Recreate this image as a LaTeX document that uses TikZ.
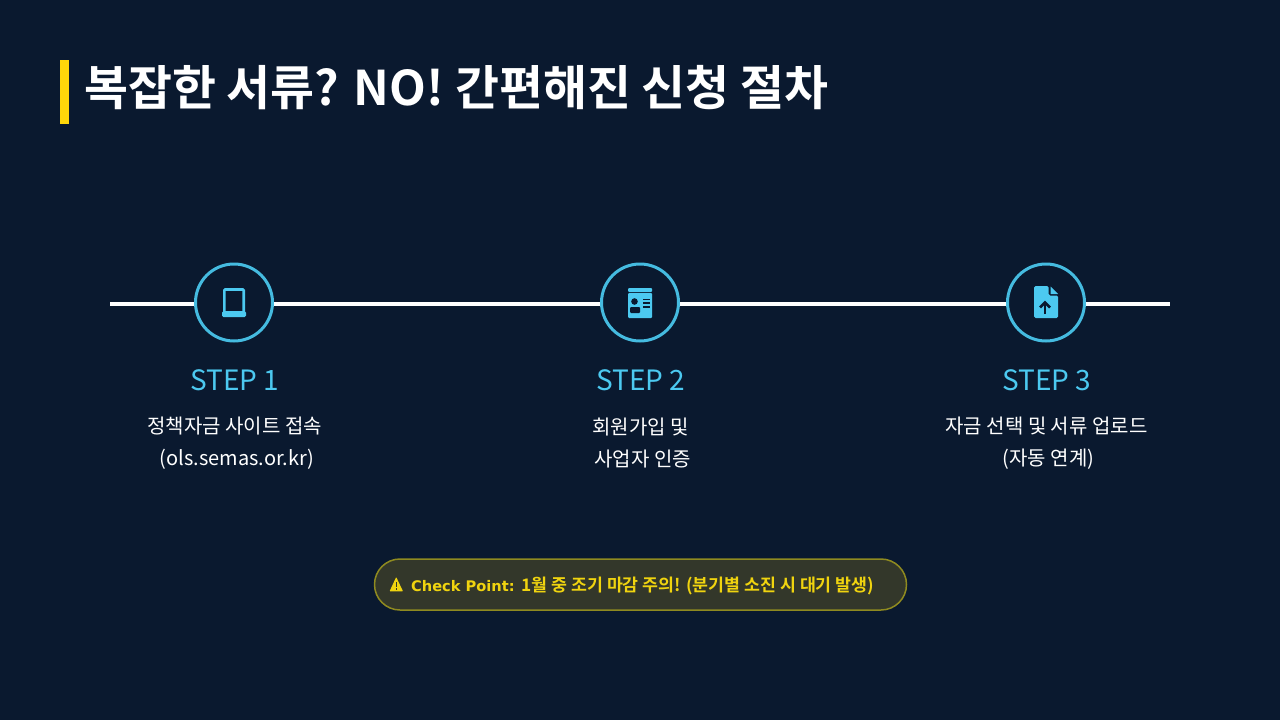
\documentclass[tikz,border=0pt]{standalone}
\usepackage{fontspec}
\setmainfont{Noto Sans CJK KR}
\newfontfamily\krbold{Noto Sans CJK KR Bold}
\newfontfamily\dejabold{DejaVu Sans Bold}
\usepackage{tikz}
\usetikzlibrary{calc,positioning}
\definecolor{navybg}{HTML}{0A192F}
\definecolor{stepblue}{HTML}{4CC9F0}
\definecolor{ringblue}{HTML}{45BBE0}
\definecolor{markyellow}{HTML}{FFD60A}
\definecolor{pilltextcol}{HTML}{F0D40F}
\definecolor{pillfill}{HTML}{33372A}
\definecolor{pillline}{HTML}{8F8A20}
\tikzset{
  stepring/.style={circle, draw=ringblue, line width=3pt, minimum size=77pt, inner sep=0pt, fill=navybg},
  steplabel/.style={text=stepblue, font=\fontsize{28}{32}\selectfont},
  stepdesc/.style={text=white, align=center, font=\fontsize{20}{32}\selectfont},
  timeline/.style={draw=white, line width=4pt},
}
\begin{document}
\begin{tikzpicture}[x=1pt, y=-1pt]
	\fill[navybg] (0, 0) rectangle (1280, 720);
	\useasboundingbox (0, 0) rectangle (1280, 720);

	% title
	\fill[markyellow] (60, 60) rectangle (69, 124);
	\node[anchor=west, inner sep=0pt, text=white, font=\krbold\fontsize{47.8}{56}\selectfont] (title) at (84, 87.5) {복잡한 서류? NO! 간편해진 신청 절차};

	% timeline
	\coordinate (lineL) at (110, 304);
	\coordinate (lineR) at (1170, 304);
	\node[stepring] (step1) at (234, 302.5) {};
	\node[stepring] (step2) at (640, 302.5) {};
	\node[stepring] (step3) at (1046, 302.5) {};
	\draw[timeline] (lineL) -- (step1.west |- lineL);
	\draw[timeline] (step1.east |- lineL) -- (step2.west |- lineL);
	\draw[timeline] (step2.east |- lineL) -- (step3.west |- lineL);
	\draw[timeline] (step3.east |- lineL) -- (lineR);

	% icon 1
	\draw[stepblue, line width=2.6pt, rounded corners=0.8pt] (224.3, 312) -- (224.3, 289.5) -- (243.7, 289.5) -- (243.7, 312);
	\fill[stepblue, rounded corners=1.5pt] (222, 311) rectangle (246, 317);

	% icon 2
	\fill[stepblue, rounded corners=1pt] (628, 288) rectangle (652, 292);
	\fill[stepblue, rounded corners=1pt] (628, 293) rectangle (652, 318);
	\fill[navybg] (634.5, 301.5) circle (3.3);
	\fill[navybg, rounded corners=1pt] (630, 313) rectangle (640, 307);
	\fill[navybg] (643, 298.5) rectangle (650, 300);
	\fill[navybg] (643, 302.3) rectangle (650, 303.8);
	\fill[navybg] (643, 306) rectangle (650, 307.5);

	% icon 3
	\fill[stepblue, rounded corners=1.5pt] (1034, 286) -- (1048.5, 286) -- (1048.5, 295.5) -- (1058, 295.5) -- (1058, 318) -- (1034, 318) -- cycle;
	\fill[stepblue] (1050.7, 286.7) -- (1058, 294) -- (1050.7, 294) -- cycle;
	\draw[navybg, line width=2.5pt] (1045, 314) -- (1045, 303);
	\draw[navybg, line width=2.5pt] (1040, 307.5) -- (1045, 302.5) -- (1050, 307.5);

	% labels
	\node[steplabel, below=24pt of step1, xshift=0.6pt, yshift=0.5pt] (label1) {STEP 1};
	\node[steplabel, below=24pt of step2, xshift=0.6pt, yshift=0.5pt] (label2) {STEP 2};
	\node[steplabel, below=24pt of step3, xshift=0.6pt, yshift=0.5pt] (label3) {STEP 3};
	\node[stepdesc] (desc1) at (234.7, 443) {정책자금 사이트 접속\\\hspace*{4pt}(ols.semas.or.kr)};
	\node[stepdesc] (desc2) at (640.7, 443) {회원가입 및\\\hspace*{4pt}사업자 인증};
	\node[stepdesc] (desc3) at (1046.5, 443) {자금 선택 및 서류 업로드\\\hspace*{4pt}(자동 연계)};

	% check point
	\node[draw=pillline, fill=pillfill, line width=1.5pt, rounded corners=25.5pt, minimum width=532pt, minimum height=51pt, inner sep=0pt] (pill) at (640.5, 584.5) {};
	\fill[pilltextcol, rounded corners=0.6pt] (396.2, 577) -- (403, 591.3) -- (389.6, 591.3) -- cycle;
	\fill[pillfill] (395.7, 581.5) rectangle (396.9, 587);
	\fill[pillfill] (395.7, 588) rectangle (396.9, 589.6);
	\node[anchor=west, text=pilltextcol, inner sep=0pt, font=\dejabold\fontsize{14.6}{18}\selectfont] (pilltext) at (411, 585.5) {Check Point: \krbold\fontsize{17.3}{18}\selectfont 1월 중 조기 마감 주의! (분기별 소진 시 대기 발생)};
\end{tikzpicture}
\end{document}
